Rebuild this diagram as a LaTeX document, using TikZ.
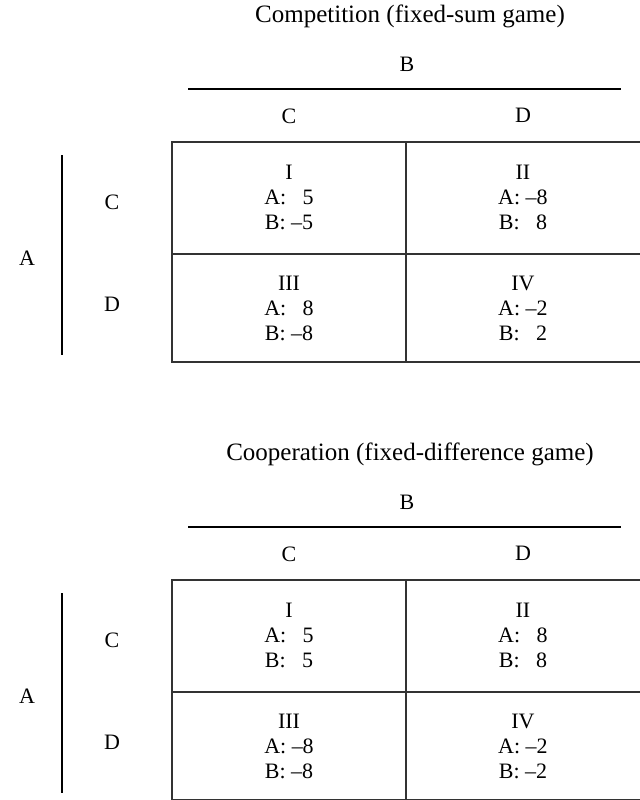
\documentclass[tikz,border=0pt]{standalone}
\usepackage{fontspec}
\setmainfont{Liberation Serif}
\usetikzlibrary{positioning}

\tikzset{
	every node/.style={inner sep=0pt, font=\fontsize{11}{12.5}\selectfont},
	head/.style={font=\fontsize{12.5}{14}\selectfont},
	cell/.style={align=center},
	grid/.style={line width=0.55pt, black!80},
	side/.style={line width=0.55pt, black}
}

\begin{document}
\begin{tikzpicture}[x=0.5pt, y=-0.5pt]
\useasboundingbox (0,0) rectangle (640,800);

% competition
\begin{scope}
\node[head] (t1) at (410,16) {Competition (fixed-sum game)};
\node (b1) at (407,64) {B};
\draw[side] (188,89) -- (621,89);
\node (c1) at (289,116) {C};
\node (d1) at (523,115) {D};
\node (a1) at (27,258) {A};
\node (rc1) at (112,202) {C};
\node (rd1) at (112,304) {D};
\draw[side] (62,155) -- (62,355);
\draw[grid] (172,142) rectangle (642,362);
\draw[grid] (406,142) -- (406,362);
\draw[grid] (172,254) -- (642,254);
\node[cell] (g1i)   at (289,197) {I\\A: \phantom{--}5\\B: --5};
\node[cell] (g1ii)  at (523,197) {II\\A: --8\\B: \phantom{--}8};
\node[cell] (g1iii) at (289,308) {III\\A: \phantom{--}8\\B: --8};
\node[cell] (g1iv)  at (523,308) {IV\\A: --2\\B: \phantom{--}2};
\end{scope}

% cooperation
\begin{scope}[yshift=-219pt]
\node[head] (t2) at (410,16) {Cooperation (fixed-difference game)};
\node (b2) at (407,64) {B};
\draw[side] (188,89) -- (621,89);
\node (c2) at (289,116) {C};
\node (d2) at (523,115) {D};
\node (a2) at (27,258) {A};
\node (rc2) at (112,202) {C};
\node (rd2) at (112,304) {D};
\draw[side] (62,155) -- (62,355);
\draw[grid] (172,142) rectangle (642,362);
\draw[grid] (406,142) -- (406,362);
\draw[grid] (172,254) -- (642,254);
\node[cell] (g2i)   at (289,197) {I\\A: \phantom{--}5\\B: \phantom{--}5};
\node[cell] (g2ii)  at (523,197) {II\\A: \phantom{--}8\\B: \phantom{--}8};
\node[cell] (g2iii) at (289,308) {III\\A: --8\\B: --8};
\node[cell] (g2iv)  at (523,308) {IV\\A: --2\\B: --2};
\end{scope}
\end{tikzpicture}
\end{document}
